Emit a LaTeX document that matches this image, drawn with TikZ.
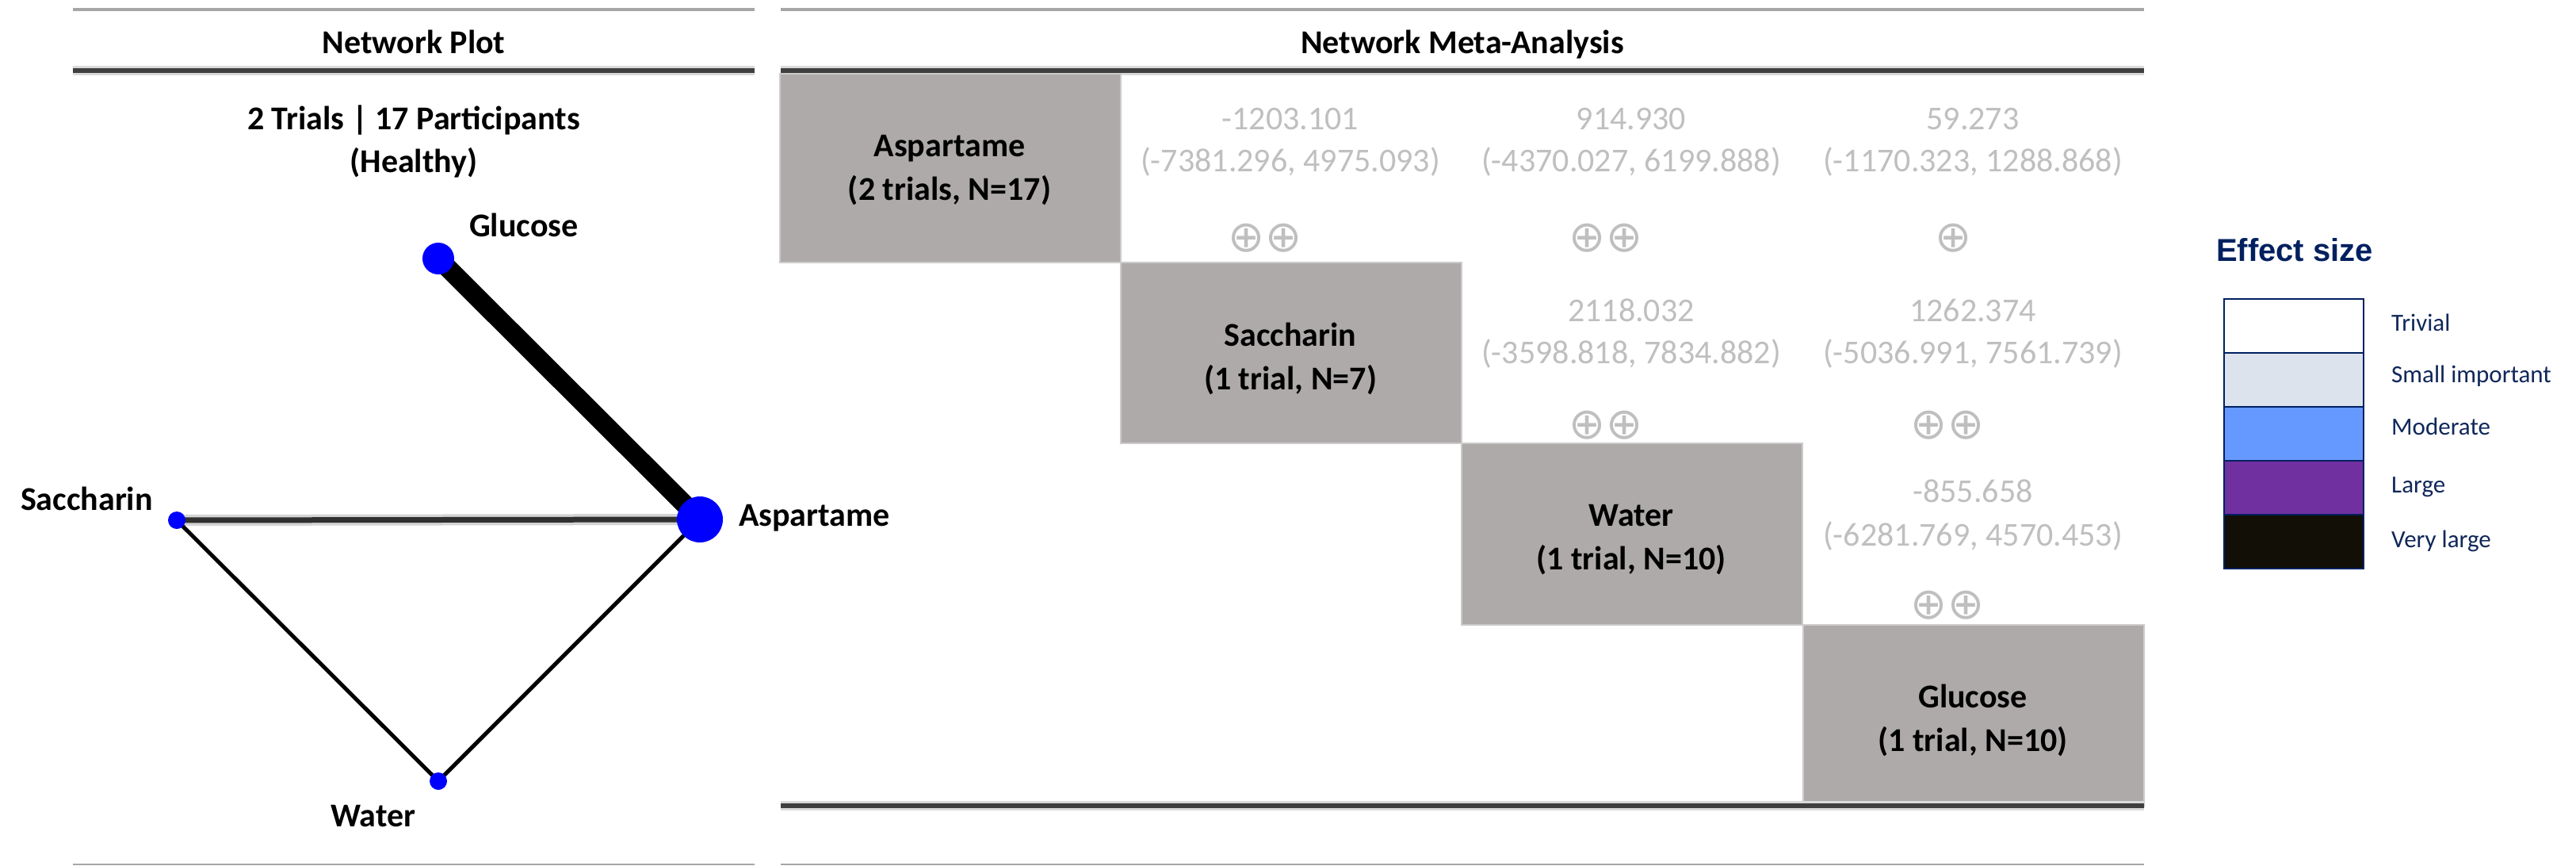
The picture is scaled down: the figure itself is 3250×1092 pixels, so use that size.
\documentclass[tikz,border=0pt]{standalone}
\usepackage{fontspec}
\setmainfont{Carlito}
\newfontfamily\arialfont{Liberation Sans}
\newfontfamily\dejavu{DejaVu Sans}
\definecolor{boxgray}{HTML}{AEAAAA}
\definecolor{boxedge}{HTML}{CCCACA}
\definecolor{numgray}{HTML}{BFBFBF}
\definecolor{rulegray}{HTML}{A6A6A6}
\definecolor{ruledark}{HTML}{3F3F3F}
\definecolor{rulehalo}{HTML}{DADADA}
\definecolor{navy}{HTML}{002060}
\definecolor{legnavy}{HTML}{10275A}
\definecolor{smallimp}{HTML}{DCE3EC}
\definecolor{moderate}{HTML}{6699FF}
\definecolor{large}{HTML}{7030A0}
\definecolor{verylarge}{HTML}{110F06}
\definecolor{nodeblue}{HTML}{0000FF}
\definecolor{edgedark}{HTML}{303030}
\definecolor{edgehalo}{HTML}{D4D4D4}
\pgfdeclarelayer{bg}
\pgfdeclarelayer{edges}
\pgfsetlayers{bg,edges,main}
\tikzset{
  hdr/.style={font=\bfseries\fontsize{42}{55}\selectfont, anchor=base, inner sep=0pt},
  netlabel/.style={font=\bfseries\fontsize{42}{55}\selectfont, inner sep=0pt},
  netnode/.style={circle, fill=nodeblue, draw=none, inner sep=0pt},
  cellbox/.style={draw=boxedge, line width=2pt, fill=boxgray, minimum width=430pt, inner sep=0pt, anchor=north west},
  celllabel/.style={font=\bfseries\fontsize{42}{55}\selectfont, align=center, inner sep=0pt},
  numtext/.style={font=\fontsize{42}{55}\selectfont, text=numgray, anchor=base, inner sep=0pt},
  grade/.style={font=\dejavu\fontsize{55}{60}\selectfont, text=numgray, inner sep=0pt},
  legbox/.style={draw=navy, line width=2pt, minimum width=176pt, minimum height=68pt, inner sep=0pt, anchor=north west},
  legtext/.style={font=\fontsize{31}{36}\selectfont, text=legnavy, anchor=base west, inner sep=0pt},
  thinrule/.style={rulegray, line width=4pt},
  baserule/.style={rulegray, line width=2.5pt},
  darkrule/.style={ruledark, line width=6pt},
  halorule/.style={rulehalo, line width=12pt},
  thickedge/.style={black, line width=24pt},
  thinedge/.style={black, line width=5pt},
  haloedge/.style={edgehalo, line width=14pt},
  coreedge/.style={edgedark, line width=7pt}
}
\begin{document}
\begin{tikzpicture}[x=1pt, y=-1pt]
\useasboundingbox (0,0) rectangle (3250,1092);
\begin{pgfonlayer}{bg}
\fill[white] (0,0) rectangle (3250,1092);
\end{pgfonlayer}

% ---------- rules ----------
\draw[thinrule] (92,12) -- (952,12);
\draw[thinrule] (985,12) -- (2705,12);
\draw[halorule] (92,89) -- (952,89);
\draw[darkrule] (92,89) -- (952,89);
\draw[halorule] (985,89) -- (2705,89);
\draw[darkrule] (985,89) -- (2705,89);
\draw[baserule] (92,1090) -- (952,1090);
\draw[baserule] (985,1090) -- (2705,1090);

% ---------- headers ----------
\node[hdr] (hplot) at (522,67) {Network Plot};
\node[hdr] (hnma) at (1845,67) {Network Meta-Analysis};
\node[hdr] (htrials) at (522,163) {2 Trials | 17 Participants};
\node[hdr] (hhealthy) at (522,217) {(Healthy)};

% ---------- network plot ----------
\node[netnode, minimum size=40pt] (glu) at (553,326) {};
\node[netnode, minimum size=58pt] (asp) at (883,655) {};
\node[netnode, minimum size=22pt] (sac) at (223,656) {};
\node[netnode, minimum size=22pt] (wat) at (553,985) {};
\begin{pgfonlayer}{edges}
\draw[thickedge] (glu.center) -- (asp.center);
\draw[haloedge] (sac.center) -- (asp.center);
\draw[coreedge] (sac.center) -- (asp.center);
\draw[thinedge] (sac.center) -- (wat.center);
\draw[thinedge] (wat.center) -- (asp.center);
\end{pgfonlayer}
\node[netlabel, anchor=base west] (glulab) at (592,298) {Glucose};
\node[netlabel, anchor=base east] (saclab) at (193,643) {Saccharin};
\node[netlabel, anchor=base west] (asplab) at (932,663) {Aspartame};
\node[netlabel, anchor=base west] (watlab) at (417,1042) {Water};

% ---------- league table ----------
\node[cellbox, minimum height=238pt] (box1) at (983,92) {};
\node[cellbox, minimum height=228pt] (box2) at (1413,330) {};
\node[cellbox, minimum height=229pt] (box3) at (1843,558) {};
\node[cellbox, minimum height=229pt] (box4) at (2274,787) {};
\draw[halorule] (985,1016) -- (2705,1016);
\draw[darkrule] (985,1016) -- (2705,1016);

\node[celllabel] (lab1) at (1198,215) {Aspartame\\(2 trials, N=17)};
\node[celllabel] (lab2) at (1628,452) {Saccharin\\(1 trial, N=7)};
\node[celllabel] (lab3) at (2058,681) {Water\\(1 trial, N=10)};
\node[celllabel] (lab4) at (2489,908) {Glucose\\(1 trial, N=10)};

% row 1
\node[numtext] (e12) at (1628,163) {-1203.101};
\node[numtext] (c12) at (1628,216) {(-7381.296, 4975.093)};
\node[grade] (g12) at (1596,300) {⊕⊕};
\node[numtext] (e13) at (2058,163) {914.930};
\node[numtext] (c13) at (2058,216) {(-4370.027, 6199.888)};
\node[grade] (g13) at (2026,300) {⊕⊕};
\node[numtext] (e14) at (2489,163) {59.273};
\node[numtext] (c14) at (2489,216) {(-1170.323, 1288.868)};
\node[grade] (g14) at (2465,300) {⊕};
% row 2
\node[numtext] (e23) at (2058,405) {2118.032};
\node[numtext] (c23) at (2058,458) {(-3598.818, 7834.882)};
\node[grade] (g23) at (2026,536) {⊕⊕};
\node[numtext] (e24) at (2489,405) {1262.374};
\node[numtext] (c24) at (2489,458) {(-5036.991, 7561.739)};
\node[grade] (g24) at (2457,536) {⊕⊕};
% row 3
\node[numtext] (e34) at (2489,633) {-855.658};
\node[numtext] (c34) at (2489,688) {(-6281.769, 4570.453)};
\node[grade] (g34) at (2457,763) {⊕⊕};

% ---------- legend ----------
\node[font=\arialfont\bfseries\fontsize{40}{48}\selectfont, text=navy, anchor=base, inner sep=0pt] (legtitle) at (2895,329) {Effect size};
\node[legbox, fill=white] (lb1) at (2805,376) {};
\node[legbox, fill=smallimp] (lb2) at (2805,444) {};
\node[legbox, fill=moderate] (lb3) at (2805,512) {};
\node[legbox, fill=large] (lb4) at (2805,580) {};
\node[legbox, fill=verylarge] (lb5) at (2805,648) {};
\node[legtext] (lt1) at (3017,417) {Trivial};
\node[legtext] (lt2) at (3017,482) {Small important};
\node[legtext] (lt3) at (3017,548) {Moderate};
\node[legtext] (lt4) at (3017,621) {Large};
\node[legtext] (lt5) at (3017,690) {Very large};
\end{tikzpicture}
\end{document}
